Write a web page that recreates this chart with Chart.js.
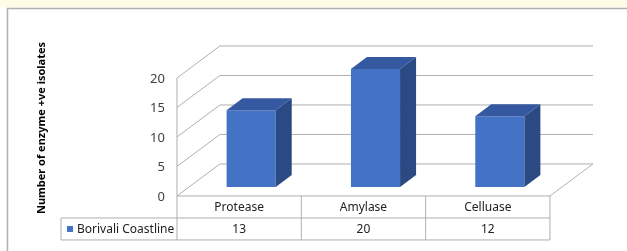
<!DOCTYPE html>
<html>
<head>
<meta charset="utf-8">
<script src="https://cdn.jsdelivr.net/npm/chart.js@4.4.1/dist/chart.umd.min.js"></script>
<style>
  html, body { margin: 0; padding: 0; background: #fff; }
  #wrap { width: 627px; height: 251px; position: relative; }
</style>
</head>
<body>
<div id="wrap"><canvas id="c" width="627" height="251"></canvas></div>
<script>
// ── data ──
const categories  = ['Protease', 'Amylase', 'Celluase'];
const seriesName  = 'Borivali Coastline';
const seriesVals  = [13, 20, 12];
const yTicks      = [0, 5, 10, 15, 20];
const yTitle      = 'Number of enzyme +ve isolates';

// 3D look: full wall depth vector and where the bars sit inside it
const DEPTH = { x: 43, y: -32 };
const BAR_AT = 0.28;             // fraction of depth from the front
const BAR_DEPTH = { x: 16, y: -12 };

const FRONT = '#4472C4', TOP = '#3459A0', SIDE = '#2B4A83';
const GRID = '#AFAFAF';
const FONT = '"Noto Sans", "Open Sans", sans-serif';

// point on the box: x pixel (bar plane), value, depth 0=front 1=back
function P(x, yPix, d) {
  return [x + (d - BAR_AT) * DEPTH.x, yPix + (d - BAR_AT) * DEPTH.y];
}

const frame3d = {
  id: 'frame3d',
  beforeDraw(chart) {
    const c = chart.ctx;
    c.save();
    c.fillStyle = '#FEFBE6';
    c.fillRect(0, 0, chart.width, 7.5);
    c.strokeStyle = '#B0B0B0';
    c.lineWidth = 1.5;
    c.strokeRect(7.5, 8.5, chart.width + 10, chart.height + 10);
    c.restore();
  },
  beforeDatasetsDraw(chart) {
    const c = chart.ctx, xs = chart.scales.x, ys = chart.scales.y;
    const L = xs.left, R = xs.right;
    c.save();
    c.strokeStyle = GRID;
    c.lineWidth = 1;
    const line = (a, b) => { c.beginPath(); c.moveTo(a[0], a[1]); c.lineTo(b[0], b[1]); c.stroke(); };

    // wall gridlines: left side wall diagonal + back wall horizontal
    yTicks.forEach(v => {
      const y = ys.getPixelForValue(v);
      const f = P(L, y, 0), b = P(L, y, 1), br = P(R, y, 1);
      line(f, b);
      line(b, br);
    });
    // front left vertical edge, running down through the table
    const top = P(L, ys.getPixelForValue(20), 0);
    const bot = P(L, ys.getPixelForValue(0), 0);
    line(top, [bot[0], bot[1] + 44]);
    // floor front + right edges
    const fr = P(R, ys.getPixelForValue(0), 0);
    line(bot, fr);
    line(fr, P(R, ys.getPixelForValue(0), 1));

    // tick labels on front edge
    c.fillStyle = '#404040';
    c.font = '13px ' + FONT;
    c.textAlign = 'right';
    c.textBaseline = 'middle';
    yTicks.forEach(v => {
      const p = P(L, ys.getPixelForValue(v), 0);
      c.fillText(String(v), p[0] - 12, p[1] + 1);
    });

    // axis title
    c.save();
    c.translate(42, 128);
    c.rotate(-Math.PI / 2);
    c.font = 'bold 11px ' + FONT;
    c.fillStyle = '#000';
    c.textAlign = 'center';
    c.fillText(yTitle, 0, 0);
    c.restore();

    // data table
    const y0 = bot[1], y1 = y0 + 22, y2 = y1 + 22;
    const cw = (R - L) / categories.length;
    const x0 = bot[0];
    line([61, y1], [fr[0], y1]);
    line([61, y2], [fr[0], y2]);
    line([61, y1], [61, y2]);
    for (let i = 1; i <= categories.length; i++) {
      const x = x0 + cw * i;
      line([x, y0], [x, y2]);
    }
    c.fillStyle = '#222';
    c.font = '12px ' + FONT;
    c.textAlign = 'center';
    categories.forEach((cat, i) => {
      const cx = x0 + cw * (i + 0.5);
      c.fillText(cat, cx, (y0 + y1) / 2 + 1);
      c.fillText(String(seriesVals[i]), cx, (y1 + y2) / 2 + 1);
    });
    c.fillStyle = FRONT;
    c.fillRect(67, y1 + 8, 6, 6);
    c.fillStyle = '#222';
    c.textAlign = 'left';
    c.fillText(seriesName, 77, (y1 + y2) / 2 + 1);
    c.restore();
  },
  afterDatasetsDraw(chart) {
    const c = chart.ctx;
    const meta = chart.getDatasetMeta(0);
    c.save();
    meta.data.forEach(bar => {
      const { x, y, base, width } = bar.getProps(['x', 'y', 'base', 'width'], true);
      const l = x - width / 2, r = x + width / 2;
      const dx = BAR_DEPTH.x, dy = BAR_DEPTH.y;
      // top
      c.fillStyle = TOP;
      c.beginPath();
      c.moveTo(l, y); c.lineTo(r, y); c.lineTo(r + dx, y + dy); c.lineTo(l + dx, y + dy);
      c.closePath(); c.fill();
      // side
      c.fillStyle = SIDE;
      c.beginPath();
      c.moveTo(r, y); c.lineTo(r + dx, y + dy); c.lineTo(r + dx, base + dy); c.lineTo(r, base);
      c.closePath(); c.fill();
    });
    c.restore();
  }
};

new Chart(document.getElementById('c'), {
  type: 'bar',
  data: {
    labels: categories,
    datasets: [{
      label: seriesName,
      data: seriesVals,
      backgroundColor: FRONT,
      borderWidth: 0,
      categoryPercentage: 1,
      barPercentage: 0.395
    }]
  },
  options: {
    responsive: false,
    animation: false,
    devicePixelRatio: 1,
    layout: { padding: { left: 189, right: 65, top: 69, bottom: 64 } },
    plugins: { legend: { display: false }, tooltip: { enabled: false } },
    scales: {
      x: { display: false },
      y: { display: false, min: 0, max: 20, ticks: { stepSize: 5 } }
    }
  },
  plugins: [frame3d]
});
</script>
</body>
</html>
